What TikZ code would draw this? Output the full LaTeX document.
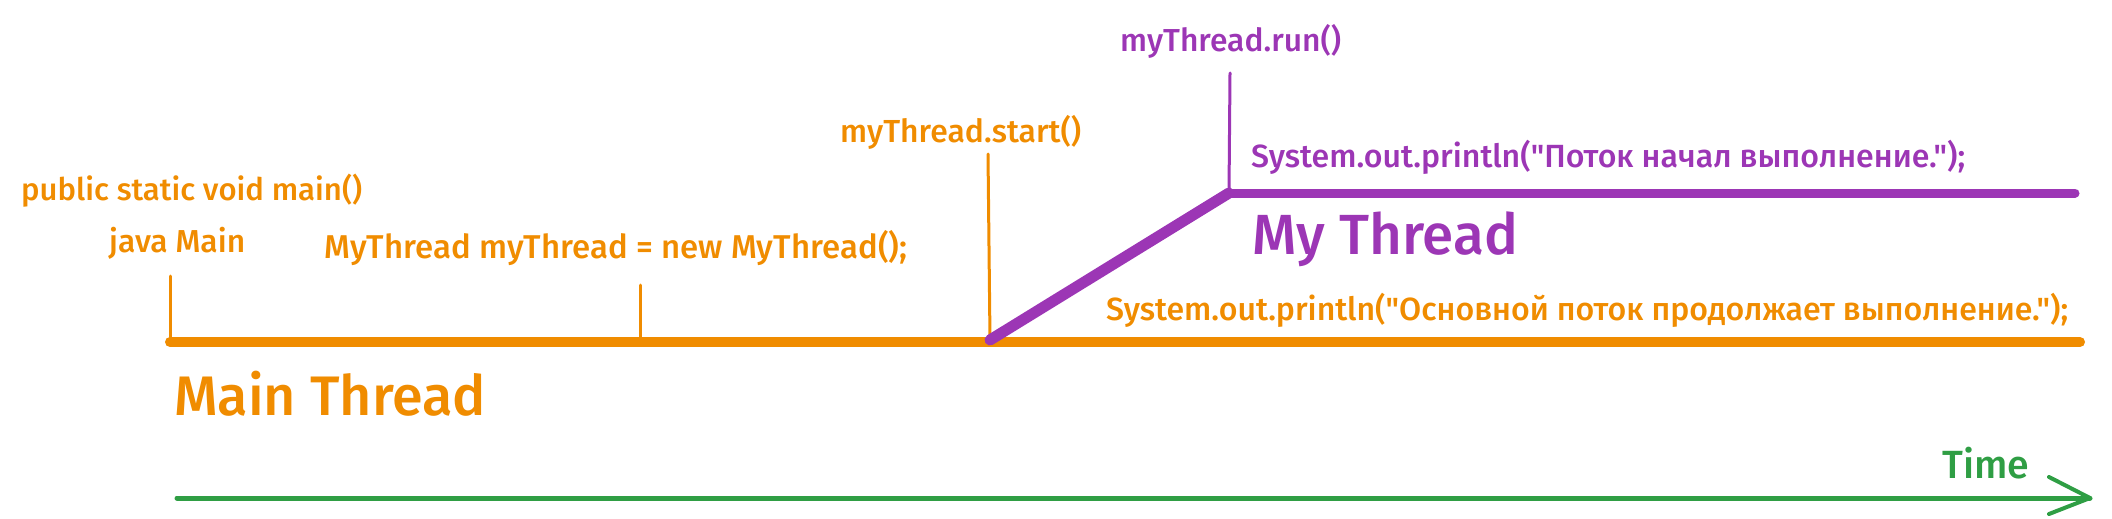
\documentclass[tikz,border=0pt]{standalone}
\usepackage{fontspec}
\setmainfont{Fira Sans Medium}[Ligatures=TeXOff]
\usepackage{graphicx}
\definecolor{orng}{HTML}{F08C00}
\definecolor{purp}{HTML}{9C36B5}
\definecolor{grn}{HTML}{2F9E44}
\newcommand{\fitw}[2]{\resizebox{#1pt}{!}{#2}}
\begin{document}
\begin{tikzpicture}[x=1pt,y=-1pt,
  lbl/.style={inner sep=0pt, anchor=base west},
  thick line/.style={line width=10pt, line cap=round},
  tick line/.style={line width=3pt, line cap=round}]
\useasboundingbox (0,0) rectangle (2112,519);
% texts
\node[lbl, text=orng] (pub) at (21,200) {\fitw{341}{public static void main()}};
\node[lbl, text=orng] (java) at (109,252) {\fitw{136}{java Main}};
\node[lbl, text=orng] (newt) at (324,258) {\fitw{583}{MyThread myThread = new MyThread();}};
\node[lbl, text=orng] (start) at (840,142) {\fitw{241}{myThread.start()}};
\node[lbl, text=purp] (run) at (1120,52) {\fitw{221}{myThread.run()}};
\node[lbl, text=purp] (potok) at (1251,167) {\fitw{714}{System.out.println("Поток начал выполнение.");}};
\node[lbl, text=purp] (mythr) at (1252,254) {\fitw{266}{My Thread}};
\node[lbl, text=orng] (osn) at (1106,320) {\fitw{962}{System.out.println("Основной поток продолжает выполнение.");}};
\node[lbl, text=orng] (mainthr) at (174,415) {\fitw{312}{Main Thread}};
\node[lbl, text=grn] (time) at (1942,478) {\fitw{87}{Time}};
% coordinates
\coordinate (m0) at (170,342);
\coordinate (m1) at (2080,342);
\coordinate (tj) at (170,276);
\coordinate (mj) at (170,342);
\coordinate (tn) at (640,285);
\coordinate (mn) at (640,342);
\coordinate (ts) at (988,154);
\coordinate (ms) at (990,340);
\coordinate (p0) at (1229,193);
\coordinate (p1) at (2075,193);
\coordinate (tr) at (1230,73);
\coordinate (g0) at (177,498);
\coordinate (g1) at (2090,498);
\coordinate (ga) at (2049,477);
\coordinate (gb) at (2049,514);
% orange main thread
\draw[orng, thick line] (m0) -- (m1);
\draw[orng, tick line] (tj) -- (mj);
\draw[orng, tick line] (tn) -- (mn);
\draw[orng, tick line] (ts) -- (ms);
% purple
\draw[purp, line width=11pt, line cap=round] (ms) -- (p0);
\draw[purp, tick line] (tr) -- (p0);
\draw[purp, thick line, line width=9pt] (p0) -- (p1);
% green time arrow
\draw[grn, line width=5pt, line cap=round] (g0) -- (g1);
\draw[grn, line width=4pt, line cap=round, line join=round] (ga) -- (g1) -- (gb);
\end{tikzpicture}
\end{document}
